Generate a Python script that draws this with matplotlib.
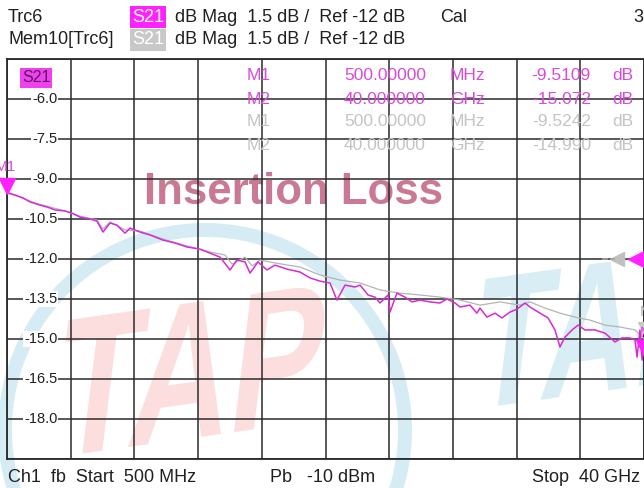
import numpy as np
import matplotlib.pyplot as plt
from matplotlib.patches import Ellipse, PathPatch
from matplotlib.textpath import TextPath
from matplotlib.font_manager import FontProperties
from matplotlib.transforms import Affine2D, IdentityTransform

W, H = 644, 488

# ---- trace data ----
trc_freq = [0.5, 1.0, 1.49, 1.93, 2.55, 2.98, 3.48, 4.10, 4.53, 5.03, 5.65, 6.08, 6.45, 6.89,
            7.32, 7.82, 8.13, 8.75, 9.37, 10.17, 10.92, 11.66, 12.47, 13.09, 13.71, 14.33,
            14.76, 15.26, 15.57, 16.06, 16.62, 17.12, 17.86, 18.67, 19.29, 19.91, 20.53,
            20.96, 21.46, 22.08, 22.39, 22.89, 23.32, 23.63, 24.13, 24.25, 24.68, 25.18,
            25.61, 26.11, 26.73, 27.35, 27.78, 28.28, 28.59, 29.21, 29.64, 29.83, 30.26,
            30.76, 31.19, 31.69, 32.13, 32.62, 32.93, 33.55, 34.05, 34.48, 34.79, 35.10,
            35.54, 35.91, 36.34, 36.96, 37.58, 38.20, 38.64, 39.13, 39.44, 39.57, 39.75,
            39.88, 40.0]
trc_db = [-9.51, -9.60, -9.71, -9.86, -9.98, -10.05, -10.16, -10.20, -10.28, -10.43, -10.50,
          -10.58, -10.99, -10.65, -10.73, -11.03, -10.84, -10.99, -11.10, -11.29, -11.40,
          -11.55, -11.63, -11.78, -11.93, -12.41, -12.04, -12.11, -12.53, -12.11, -12.41,
          -12.23, -12.38, -12.49, -12.71, -12.83, -12.90, -13.54, -12.98, -13.05, -12.98,
          -13.35, -13.43, -13.65, -13.35, -13.99, -13.28, -13.43, -13.61, -13.54, -13.61,
          -13.65, -13.50, -13.65, -13.80, -13.73, -14.03, -13.84, -14.18, -14.03, -14.21,
          -13.99, -13.88, -13.65, -13.80, -14.03, -14.21, -14.66, -15.30, -14.93, -14.66,
          -14.48, -14.66, -14.66, -14.78, -15.11, -14.96, -14.96, -15.04, -15.68, -14.66,
          -15.79, -15.07]

mem_freq = [0.5, 1.31, 2.24, 3.17, 4.10, 5.03, 6.08, 6.45, 6.89, 7.82, 8.75, 10.17, 11.66,
            13.09, 14.02, 14.45, 15.26, 15.70, 16.19, 17.12, 18.67, 19.91, 21.15, 22.39,
            23.63, 24.87, 26.11, 27.35, 28.59, 29.83, 31.07, 32.31, 32.93, 33.86, 34.79,
            35.72, 36.65, 37.58, 38.51, 39.44, 40.0]
mem_db = [-9.52, -9.68, -9.90, -10.05, -10.20, -10.39, -10.54, -10.88, -10.61, -10.91, -10.95,
          -11.25, -11.51, -11.74, -11.85, -12.19, -11.93, -12.26, -12.04, -12.15, -12.30,
          -12.60, -12.79, -12.90, -13.16, -13.28, -13.35, -13.43, -13.54, -13.73, -13.61,
          -13.73, -13.61, -13.84, -14.03, -14.18, -14.29, -14.48, -14.55, -14.66, -14.99]

marker_names = ['M1', 'M2']
marker_freq = [0.5, 40.0]
marker_freq_txt = ['500.00000', '40.000000']
marker_unit = ['MHz', 'GHz']
trc_marker_db = [-9.5109, -15.072]
mem_marker_db = [-9.5242, -14.990]

y_labels = [-6.0, -7.5, -9.0, -10.5, -12.0, -13.5, -15.0, -16.5, -18.0]
ref_level = -12.0
scale_div = 1.5

TRC = '#d62ad6'
TRC_TXT = '#d94ad9'
MEM = '#b4b4b4'
GRID = '#2a2a2a'

plt.rcParams['font.family'] = ['Liberation Sans', 'DejaVu Sans']

fig = plt.figure(figsize=(W / 100, H / 100), dpi=100)


def fx(x):
    return x / W


def fy(y):
    return 1 - y / H


# ---- watermark (logo ring, TAP letters) ----
ring = Ellipse((fx(205), fy(430)), 400 / W, 400 / H, fill=False, ec='#d5ecf4', lw=10,
               transform=fig.transFigure, zorder=0)
fig.add_artist(ring)

bold = FontProperties(family='Liberation Sans', weight='bold')
tap = TextPath((0, 0), 'TAP', size=1, prop=bold)
red_tr = Affine2D().scale(140, 195).skew_deg(15, 0).rotate_deg(8).translate(50, H - 458)
fig.add_artist(PathPatch(tap, transform=red_tr + IdentityTransform(), fc='#fcdede',
                         ec='none', zorder=0))
blue_tr = Affine2D().scale(130, 185).skew_deg(15, 0).rotate_deg(8).translate(468, H - 410)
fig.add_artist(PathPatch(tap, transform=blue_tr + IdentityTransform(), fc='#d9edf4',
                         ec='none', zorder=0))

# ---- diagram area ----
ax = fig.add_axes([fx(7), fy(459), 637 / W, 400 / H])
ax.set_zorder(1)
ax.patch.set_alpha(0)
ax.set_xlim(0.5, 40.0)
ax.set_ylim(ref_level - 5 * scale_div, ref_level + 5 * scale_div)
ax.set_xticks(np.linspace(0.5, 40.0, 11))
ax.set_yticks(np.arange(ref_level - 5 * scale_div, ref_level + 5.01 * scale_div, scale_div))
ax.tick_params(length=0, labelbottom=False, labelleft=False)
ax.grid(True, color=GRID, lw=1.1)
for s in ax.spines.values():
    s.set_color(GRID)
    s.set_linewidth(1.3)

ax.text(0.449, 0.667, 'Insertion Loss', transform=ax.transAxes, ha='center', va='center',
        fontsize=31.5, fontweight='bold', color='#c97a92', zorder=1)

for v in y_labels:
    ax.text(0.079, v, f'{v:.1f}', transform=ax.get_yaxis_transform(), ha='right',
            va='center', fontsize=10.5, color='#202020',
            bbox=dict(fc='white', ec='none', pad=0.8), zorder=3)

ax.plot(mem_freq, mem_db, color=MEM, lw=0.9, zorder=4)
ax.plot(trc_freq, trc_db, color=TRC, lw=1.1, zorder=5)

# markers
ax.plot(marker_freq[0], trc_marker_db[0] + 0.23, marker='v', ms=11, color='#ff22ff',
        mec='#ff22ff', clip_on=False, zorder=6)
ax.text(marker_freq[0] - 0.1, trc_marker_db[0] + 0.95, 'M1', ha='center', va='center',
        fontsize=11, color=TRC_TXT, zorder=6)
ax.plot(marker_freq[1], mem_marker_db[1] + 0.4, marker='v', ms=9, color='#c8c8c8',
        clip_on=False, zorder=5)
ax.text(marker_freq[1] - 0.25, mem_marker_db[1] + 1.0, 'M2', ha='left', va='center',
        fontsize=11, color='#b0b0b0', zorder=6)
ax.text(marker_freq[1] - 0.25, trc_marker_db[1] + 0.3, 'M2', ha='left', va='center',
        fontsize=11, color=TRC_TXT, zorder=6)
ax.plot(marker_freq[1], trc_marker_db[1] - 0.25, marker='v', ms=11, color='#ff22ff',
        clip_on=False, zorder=6)

# reference level arrows
ax.plot(39.6, ref_level, marker='<', ms=14, color='#ff22ff', clip_on=False, zorder=6)
ax.plot(38.3, ref_level, marker='<', ms=10, color='#c0c0c0', clip_on=False, zorder=6)
ax.plot([37.4, 38.2], [ref_level, ref_level], color='#a0a0a0', lw=1.2, ls='--', zorder=6)

# S21 label inside diagram
fig.text(fx(22), fy(78), 'S21', fontsize=11.5, color='#5a1a5a', va='center', ha='left',
         bbox=dict(fc='#f040f0', ec='none', pad=1.5), zorder=5)

# marker table
rows_y = [75, 99, 122, 146]
for i in range(4):
    k = i % 2
    col = TRC_TXT if i < 2 else '#c4c4c4'
    val = trc_marker_db[k] if i < 2 else mem_marker_db[k]
    vtxt = f'{val:.4f}' if abs(val) < 10 else f'{val:.3f}'
    y = fy(rows_y[i])
    fig.text(fx(247), y, marker_names[k], color=col, fontsize=12.5, va='center', zorder=5)
    fig.text(fx(426), y, marker_freq_txt[k], color=col, fontsize=12.5, va='center',
             ha='right', zorder=5)
    fig.text(fx(450), y, marker_unit[k], color=col, fontsize=12.5, va='center', zorder=5)
    fig.text(fx(591), y, vtxt, color=col, fontsize=12.5, va='center', ha='right', zorder=5)
    fig.text(fx(612), y, 'dB', color=col, fontsize=12.5, va='center', zorder=5)

# ---- header / footer ----
hs = 13
fig.text(fx(8), fy(17), 'Trc6', fontsize=hs, va='center', color='#202020')
fig.text(fx(132), fy(17), 'S21', fontsize=hs, va='center', color='white',
         bbox=dict(fc='#ff22ff', ec='none', pad=1.5))
fig.text(fx(175), fy(17), 'dB Mag  1.5 dB /  Ref -12 dB', fontsize=hs, va='center',
         color='#202020')
fig.text(fx(440), fy(17), 'Cal', fontsize=hs, va='center', color='#202020')
fig.text(fx(633), fy(17), '3', fontsize=hs, va='center', color='#202020')
fig.text(fx(8), fy(40), 'Mem10[Trc6]', fontsize=hs, va='center', color='#202020')
fig.text(fx(132), fy(40), 'S21', fontsize=hs, va='center', color='white',
         bbox=dict(fc='#c8c8c8', ec='none', pad=1.5))
fig.text(fx(175), fy(40), 'dB Mag  1.5 dB /  Ref -12 dB', fontsize=hs, va='center',
         color='#202020')

fig.text(fx(8), fy(477), 'Ch1  fb  Start  500 MHz', fontsize=hs, va='center', color='#202020')
fig.text(fx(270), fy(477), 'Pb   -10 dBm', fontsize=hs, va='center', color='#202020')
fig.text(fx(532), fy(477), 'Stop  40 GHz', fontsize=hs, va='center', color='#202020')

fig.savefig('out.png', dpi=100)
